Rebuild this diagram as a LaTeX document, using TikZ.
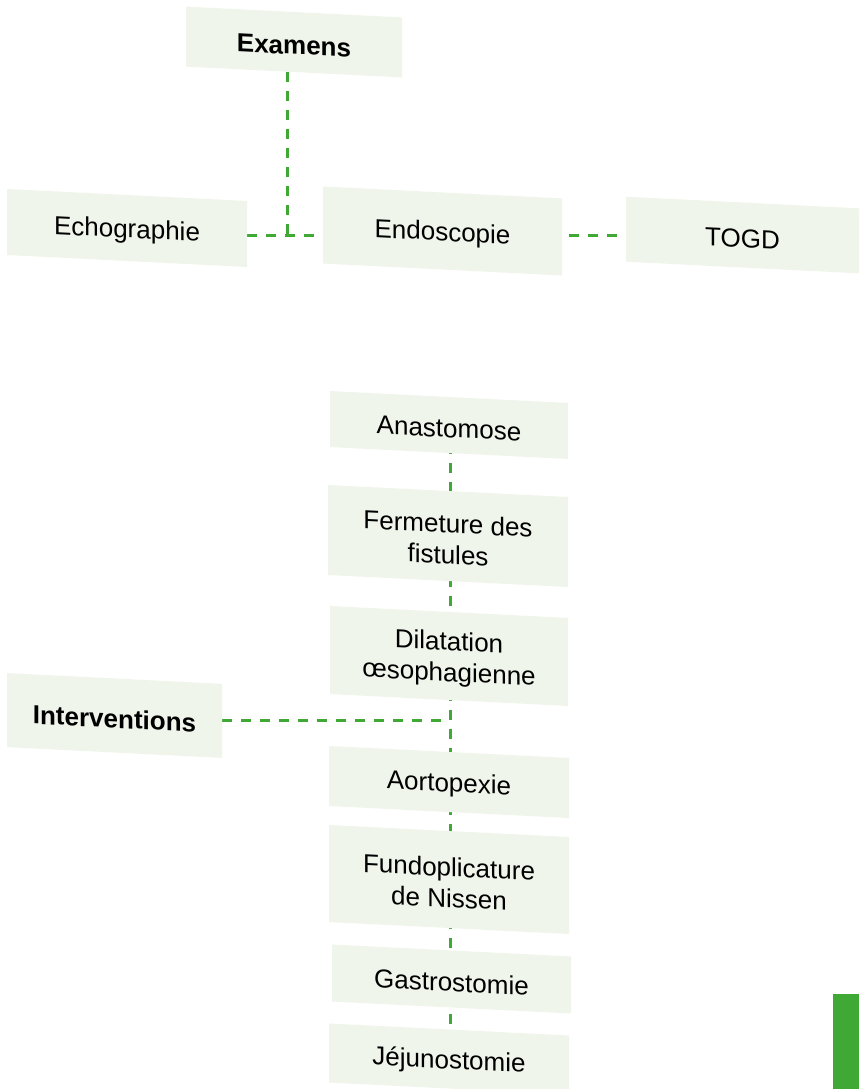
\documentclass[tikz,border=0pt]{standalone}
\usepackage{fontspec}
\setmainfont{Liberation Sans}
\usepackage{xcolor}
\usetikzlibrary{calc}
\usetikzlibrary{backgrounds}
\definecolor{custom-green}{RGB}{64, 168, 52}
\definecolor{custom-pale}{RGB}{239, 245, 234}
\newcommand{\lift}{\rule{0pt}{25pt}}

\begin{document}
\begin{tikzpicture}[x=1pt, y=-1pt,
        box/.style={fill=custom-pale, yslant=-0.05, inner sep=0pt, align=center,
            font=\fontsize{26}{31}\selectfont},
        head/.style={box, font=\fontsize{26}{31}\selectfont\bfseries},
        link/.style={draw=custom-green, line width=3pt, dash pattern=on 10pt off 9pt}]
    \useasboundingbox (0, 0) rectangle (859, 1089);

    % Examens
    \node[head, minimum width=216, minimum height=60] (examens) at (294, 42) {\lift Examens};
    \node[box, minimum width=240, minimum height=66] (echo) at (127, 228) {\lift Echographie};
    \node[box, minimum width=239, minimum height=77] (endo) at (442.5, 231) {\lift Endoscopie};
    \node[box, minimum width=233, minimum height=65] (togd) at (742.5, 235) {\lift TOGD};
    \coordinate (junc) at (287, 235);

    % Interventions
    \node[head, minimum width=215, minimum height=74] (interv) at (114.5, 715.5) {\lift Interventions};
    \node[box, minimum width=238, minimum height=56] (anast) at (449, 425) {\lift Anastomose};
    \node[box, minimum width=240, minimum height=90] (fistules) at (448, 536) {\lift Fermeture des\\fistules};
    \node[box, minimum width=238, minimum height=88] (dilat) at (449, 656) {\lift Dilatation\\œsophagienne};
    \node[box, minimum width=240, minimum height=60] (aorto) at (449, 782) {\lift Aortopexie};
    \node[box, minimum width=240, minimum height=97] (nissen) at (449, 879.5) {\lift Fundoplicature\\de Nissen};
    \node[box, minimum width=239, minimum height=57] (gastro) at (451.5, 979) {\lift Gastrostomie};
    \node[box, minimum width=240, minimum height=59] (jejuno) at (449, 1059) {\lift Jéjunostomie};
    \coordinate (hub) at (450, 720);

    \begin{scope}[on background layer]
        \draw[link] (junc |- examens.south) -- (junc);
        \draw[link] (echo.east |- junc) -- (endo.west |- junc);
        \draw[link] ([xshift=7]endo.east |- junc) -- (togd.west |- junc);
        \draw[link] (interv.east |- hub) -- (hub);
        \draw[link] (hub |- anast) -- (hub |- jejuno);
    \end{scope}

    \fill[custom-green] (833, 994) rectangle (859, 1089);
\end{tikzpicture}
\end{document}
